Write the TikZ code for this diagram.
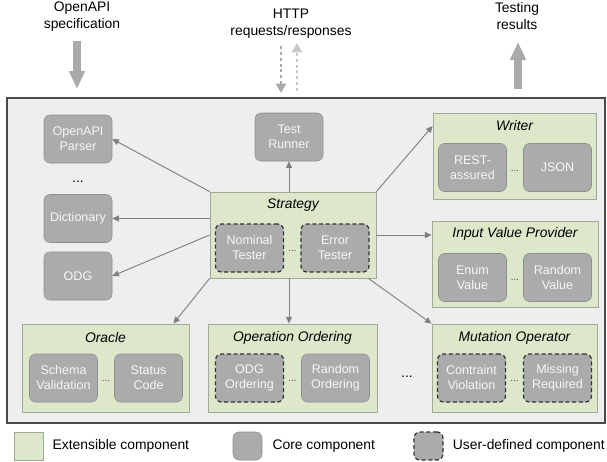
\documentclass[tikz,border=0pt]{standalone}
\usepackage{fontspec}
\setmainfont{Liberation Sans}
\usetikzlibrary{arrows.meta,positioning}

\definecolor{extgreen}{HTML}{DDE8CB}
\definecolor{extedge}{HTML}{A2A89A}
\definecolor{coregray}{HTML}{ABABAB}
\definecolor{coreedge}{HTML}{8E8E8E}
\definecolor{framegray}{HTML}{EEEEEE}
\definecolor{frameedge}{HTML}{4A4A4A}
\definecolor{linkgray}{HTML}{808080}
\definecolor{biggray}{HTML}{AAAAAA}
\definecolor{palegray}{HTML}{C8C8C8}

\tikzset{
  frame/.style={draw=frameedge, fill=framegray, line width=1.4pt},
  extbox/.style={draw=extedge, fill=extgreen, line width=0.6pt, inner sep=0pt},
  corebox/.style={draw=coreedge, fill=coregray, rounded corners=4.5pt,
    minimum width=51pt, minimum height=36pt, inner sep=0pt, align=center,
    text=white!94!gray, font=\fontsize{9.4}{11.25}\selectfont},
  userbox/.style={corebox, draw=black!80, line width=0.9pt, dash pattern=on 3pt off 2pt},
  boxtitle/.style={font=\fontsize{10.4}{12.5}\selectfont\itshape},
  toplabel/.style={align=center, inner sep=0pt, font=\fontsize{10.4}{12.75}\selectfont},
  legendtext/.style={inner sep=0pt, anchor=west, font=\fontsize{10.4}{12.5}\selectfont},
  bigdots/.style={anchor=base, inner sep=0pt, font=\fontsize{10.4}{12.5}\selectfont},
  smalldots/.style={anchor=base, inner sep=0pt, text=black!70, font=\fontsize{7.5}{9}\selectfont},
  link/.style={draw=linkgray, line width=0.7pt, -{Triangle[length=5pt,width=4.5pt]}},
  bigarrow/.style={draw=biggray, line width=6pt, -{Triangle[length=13.5pt,width=11.25pt]}},
  httparrow/.style={line width=2.2pt, dash pattern=on 2.2pt off 2.2pt,
    -{Triangle[length=7pt,width=7.5pt]}},
}

\begin{document}
\begin{tikzpicture}[x=0.75pt,y=-0.75pt]
\useasboundingbox (0,0) rectangle (607,461);

% inputs and outputs of the tool
\node[toplabel] (spec) at (82,16.5) {OpenAPI\\specification};
\node[toplabel] (http) at (291,23.5) {HTTP\\requests/responses};
\node[toplabel] (results) at (517,16) {Testing\\results};
\coordinate (spec from) at (77,41);
\coordinate (spec to) at (77,89);
\coordinate (req from) at (281,46);
\coordinate (req to) at (281,93);
\coordinate (resp from) at (297,91);
\coordinate (resp to) at (297,43);
\coordinate (results from) at (518,89);
\coordinate (results to) at (518,42);
\draw[bigarrow] (spec from) -- (spec to);
\draw[bigarrow] (results from) -- (results to);
\draw[httparrow, draw=biggray] (req from) -- (req to);
\draw[httparrow, draw=palegray] (resp from) -- (resp to);

% main frame
\draw[frame] (7,98) rectangle (605,423);

% core components on the left
\node[corebox] (parser) at (78,139) {OpenAPI\\Parser};
\node[bigdots] (parser dots) at (78,182) {...};
\node[corebox] (dict) at (78,218.5) {Dictionary};
\node[corebox] (odg) at (78,276) {ODG};
\node[corebox] (runner) at (289,137) {Test\\Runner};

% strategy
\node[extbox, minimum width=124.5pt, minimum height=64.5pt] (strategy) at (293,235) {};
\node[boxtitle] (strategy title) at (293,205) {Strategy};
\node[userbox] (nominal) at (249.5,248) {Nominal\\Tester};
\node[userbox] (error) at (335,248) {Error\\Tester};
\node[smalldots] at (292.5,251) {...};

% writer
\node[extbox, minimum width=122.25pt, minimum height=64.5pt] (writer) at (514.5,156) {};
\node[boxtitle] (writer title) at (514.5,126) {Writer};
\node[corebox] (restassured) at (472.5,167.5) {REST-\\assured};
\node[corebox] (json) at (557.5,167.5) {JSON};
\node[smalldots] at (515,171) {...};

% input value provider
\node[extbox, minimum width=124.5pt, minimum height=64.5pt] (input) at (515,264) {};
\node[boxtitle] (input title) at (515,234) {Input Value Provider};
\node[corebox] (enum) at (472.5,277.5) {Enum\\Value};
\node[corebox] (random) at (557.5,277.5) {Random\\Value};
\node[smalldots] at (515,280) {...};

% oracle
\node[extbox, minimum width=125.25pt, minimum height=66pt] (oracle) at (105.5,368) {};
\node[boxtitle] (oracle title) at (105.5,338) {Oracle};
\node[corebox] (schema) at (63.5,378) {Schema\\Validation};
\node[corebox] (status) at (148.5,378) {Status\\Code};
\node[smalldots] at (106,381) {...};

% operation ordering
\node[extbox, minimum width=126.75pt, minimum height=66pt] (ordering) at (292.5,368) {};
\node[boxtitle] (ordering title) at (292.5,338) {Operation Ordering};
\node[userbox] (odgordering) at (249.5,378) {ODG\\Ordering};
\node[corebox] (randordering) at (335.5,378) {Random\\Ordering};
\node[smalldots] at (292.5,381) {...};

\node[bigdots] (row dots) at (407,377) {...};

% mutation operator
\node[extbox, minimum width=123.75pt, minimum height=66pt] (mutation) at (514.5,368) {};
\node[boxtitle] (mutation title) at (514.5,338) {Mutation Operator};
\node[userbox] (violation) at (471.5,378) {Contraint\\Violation};
\node[userbox] (missing) at (557.5,378) {Missing\\Required};
\node[smalldots] at (514.5,381) {...};

% strategy uses everything else
\draw[link] (strategy.north west) -- (parser.east);
\draw[link] (strategy.west |- dict) -- (dict.east);
\draw[link] (strategy.west) -- (odg.east);
\draw[link] (strategy.north -| runner) -- (runner.south);
\draw[link] (strategy.north east) -- (writer.west |- writer title);
\draw[link] (strategy.east) -- (strategy.east -| input.west);
\draw[link] (strategy.south west) -- ([xshift=-12pt]oracle.north east);
\draw[link] (strategy.south -| runner) -- (ordering.north -| runner);
\draw[link] ([xshift=-6pt]strategy.south east) -- (mutation.north west);

% legend
\node[extbox, minimum width=21.75pt, minimum height=21pt] (legend ext) at (28.5,446) {};
\node[legendtext, right=6.75pt of legend ext] {Extensible component};
\node[corebox, minimum width=21.75pt, minimum height=21pt] (legend core) at (247.5,446) {};
\node[legendtext, right=7.5pt of legend core] {Core component};
\node[userbox, minimum width=21.75pt, minimum height=21pt] (legend user) at (428.5,446) {};
\node[legendtext, right=6.75pt of legend user] {User-defined component};
\end{tikzpicture}
\end{document}
